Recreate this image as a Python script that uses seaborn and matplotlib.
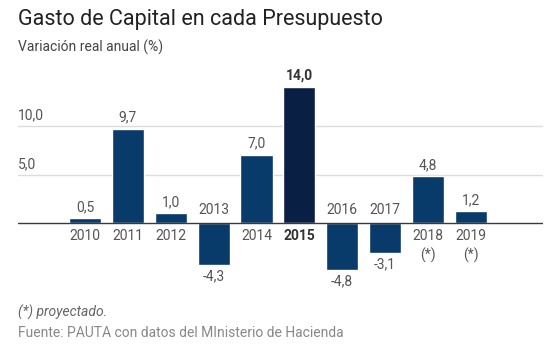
import matplotlib
matplotlib.use("Agg")
import matplotlib.pyplot as plt
import seaborn as sns
import pandas as pd

years = ["2010", "2011", "2012", "2013", "2014", "2015", "2016", "2017", "2018", "2019"]
values = [0.5, 9.7, 1.0, -4.3, 7.0, 14.0, -4.8, -3.1, 4.8, 1.2]
projected = ["2018", "2019"]
highlight = "2015"
grid_vals = [5.0, 10.0]

sns.set_theme(style="white")
plt.rcParams["font.family"] = ["Roboto", "DejaVu Sans"]

df = pd.DataFrame({"year": years, "value": values})
palette = {y: ("#0a1f44" if y == highlight else "#083a6a") for y in years}

fig = plt.figure(figsize=(5.49, 3.58), dpi=100)
ax = fig.add_axes([18 / 549, 68 / 358, 525 / 549, 230 / 358])

fs = 10
for g in grid_vals:
    ax.axhline(g, color="#dcdcdc", lw=1, zorder=0)
    ax.text(-1.56, g + 0.35, f"{g:.1f}".replace(".", ","), ha="left", va="bottom",
            fontsize=fs, color="#555555")

sns.barplot(data=df, x="year", y="value", hue="year", palette=palette, legend=False,
            width=0.75, saturation=1, ax=ax, zorder=2)
ax.axhline(0, color="#3a3a3a", lw=1, zorder=3)

for i, (y, v) in enumerate(zip(years, values)):
    lab = f"{v:.1f}".replace(".", ",")
    bold = "bold" if y == highlight else "normal"
    col = "#333333" if y == highlight else "#555555"
    if v >= 0:
        ax.text(i, v + 0.45, lab, ha="center", va="bottom", fontsize=fs, color=col, fontweight=bold)
        ax.text(i, -0.6, y, ha="center", va="top", fontsize=fs, color=col, fontweight=bold)
        if y in projected:
            ax.text(i, -2.5, "(*)", ha="center", va="top", fontsize=fs, color="#555555")
    else:
        ax.text(i, v - 0.45, lab, ha="center", va="top", fontsize=fs, color="#555555")
        ax.text(i, 0.6, y, ha="center", va="bottom", fontsize=fs, color="#555555")

ax.set_xlim(-1.56, 10.68)
ax.set_ylim(-6.9, 16.8)
ax.set_xlabel("")
ax.set_ylabel("")
ax.set_xticks([])
ax.set_yticks([])
sns.despine(ax=ax, left=True, bottom=True)

fig.text(18 / 549, 1 - 20 / 358, "Gasto de Capital en cada Presupuesto", ha="left", va="center",
         fontsize=15.5, color="#222222")
fig.text(18 / 549, 1 - 47 / 358, "Variación real anual (%)", ha="left", va="center",
         fontsize=10, color="#444444")
fig.text(18 / 549, 1 - 312 / 358, "(*) proyectado.", ha="left", va="center",
         fontsize=10, color="#666666", style="italic")
fig.text(18 / 549, 1 - 333 / 358, "Fuente: PAUTA con datos del MInisterio de Hacienda", ha="left",
         va="center", fontsize=10, color="#888888")

fig.savefig("out.png", dpi=100)
